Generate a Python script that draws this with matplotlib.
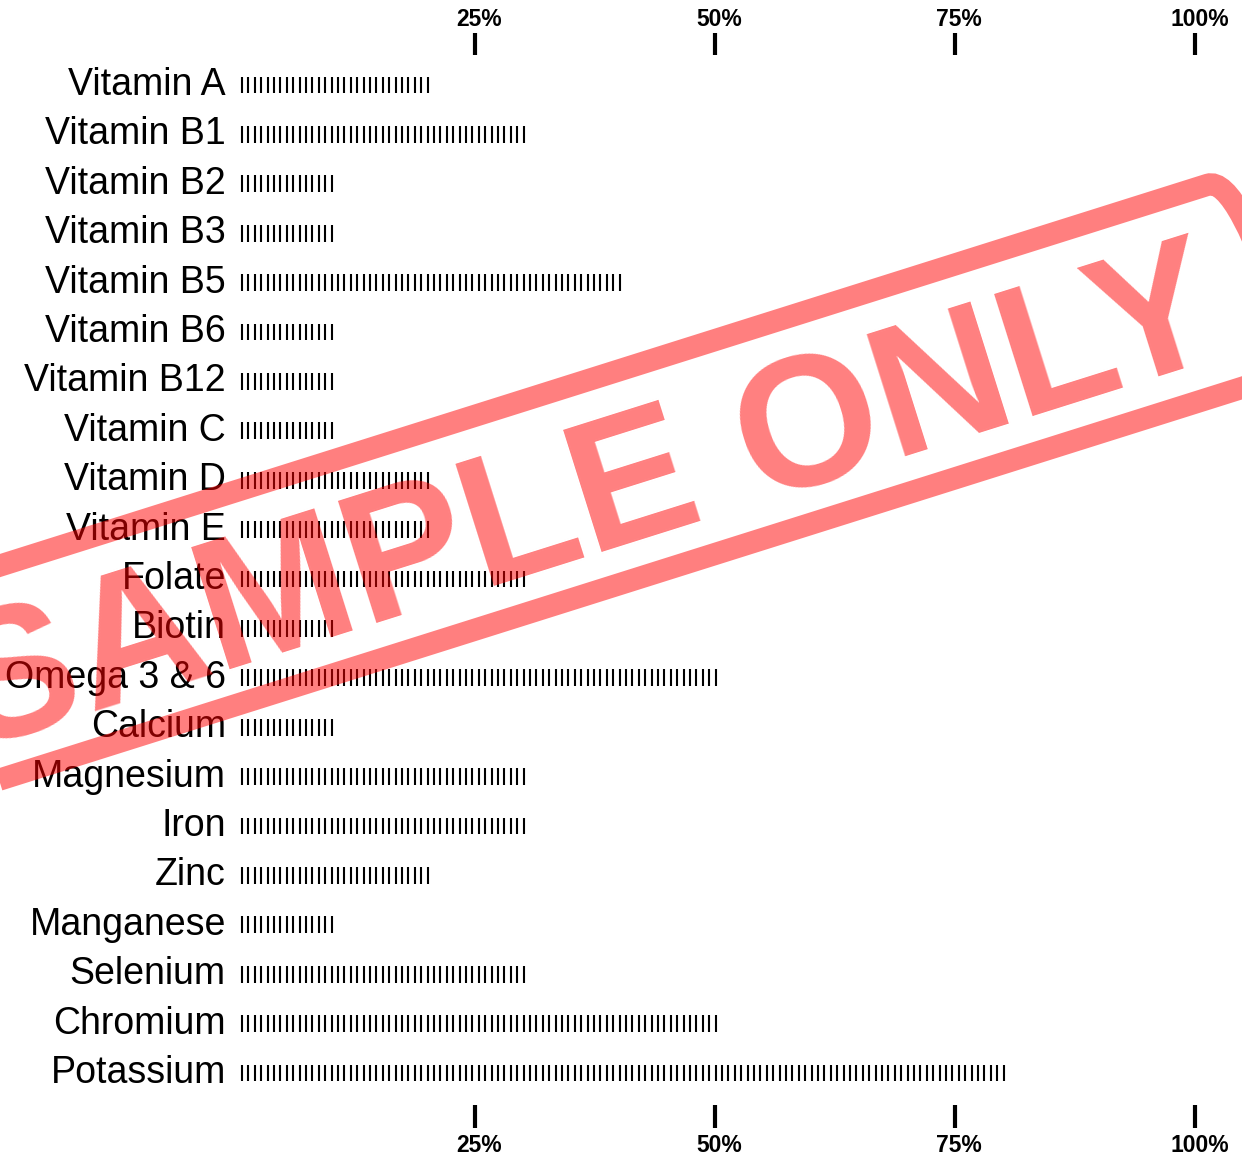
import matplotlib
matplotlib.use("Agg")
import matplotlib.pyplot as plt
from matplotlib.patches import FancyBboxPatch
from matplotlib.transforms import Affine2D, IdentityTransform

plt.rcParams['font.family'] = ['Liberation Sans', 'DejaVu Sans']

nutrients = ["Vitamin A", "Vitamin B1", "Vitamin B2", "Vitamin B3", "Vitamin B5",
             "Vitamin B6", "Vitamin B12", "Vitamin C", "Vitamin D", "Vitamin E",
             "Folate", "Biotin", "Omega 3 & 6", "Calcium", "Magnesium", "Iron",
             "Zinc", "Manganese", "Selenium", "Chromium", "Potassium"]
pct = [20, 30, 10, 10, 40, 10, 10, 10, 20, 20, 30, 10, 50, 10, 30, 30, 20, 10, 30, 50, 80]
ticks = [25, 50, 75, 100]
tick_labels = ["25%", "50%", "75%", "100%"]

W, H = 1242, 1155
fig = plt.figure(figsize=(W / 100, H / 100), dpi=100)
ax = fig.add_axes([0, 0, 1, 1])
ax.axis("off")

# pixel layout: 0% at x=235, 100% at x=1195; row 0 at y=85, pitch 49.4
px_per_pct = 9.6
x0 = 235
ax.set_xlim(-x0 / px_per_pct, (W - x0) / px_per_pct)
row0, pitch = 85, 49.4
ax.set_ylim((H - row0) / pitch, -row0 / pitch)

step = 1 / 1.5  # one mark per 2/3 percent
for i, (name, v) in enumerate(zip(nutrients, pct)):
    n = int(round(v * 1.5))
    xs = [0.73 + k * step for k in range(n)]
    ax.vlines(xs, i - 0.17, i + 0.17, color="black", lw=1.5)
    ax.text(-0.95, i, name, ha="right", va="center", fontsize=27)

top_t = (-row0 + 33) / pitch, (-row0 + 55) / pitch
bot_t = (1105 - row0) / pitch, (1128 - row0) / pitch
for t, lab in zip(ticks, tick_labels):
    ax.vlines(t, *top_t, color="black", lw=3)
    ax.vlines(t, *bot_t, color="black", lw=3)
    ax.text(t + 0.45, (19 - row0) / pitch, lab, ha="center", va="center",
            fontsize=16.5, fontweight="bold")
    ax.text(t + 0.45, (1145 - row0) / pitch, lab, ha="center", va="center",
            fontsize=16.5, fontweight="bold")

# "SAMPLE ONLY" stamp, drawn in pixel space
ang = 17.5
cx, cy = 582, H - 489
rot = Affine2D().rotate_deg_around(cx, cy, ang)
stamp = FancyBboxPatch((cx - 690, cy - 102), 1410, 204,
                       boxstyle="round,pad=0,rounding_size=32",
                       fc="none", ec="red", lw=16, alpha=0.5,
                       transform=rot + IdentityTransform(), zorder=10)
fig.patches.append(stamp)
base = rot.transform((cx, cy - 66))
fig.text(base[0], base[1], "SAMPLE ONLY", rotation=ang, ha="center", va="baseline",
         fontsize=133, fontweight="bold", color="red", alpha=0.5,
         rotation_mode="anchor", zorder=10, transform=IdentityTransform())

fig.savefig("out.png", dpi=100)
